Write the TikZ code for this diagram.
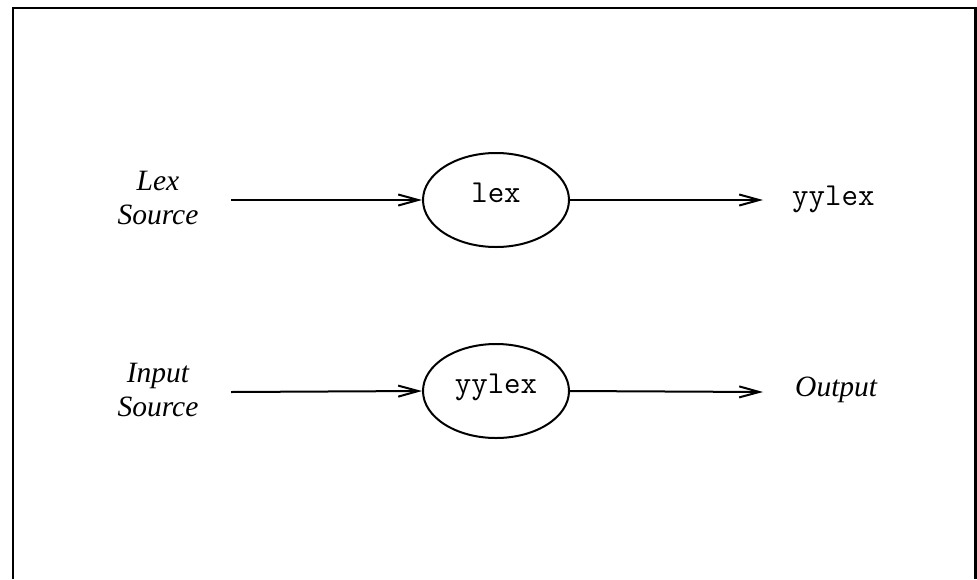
\documentclass[tikz,border=0pt]{standalone}
\usepackage{fontspec}
\setmainfont{Liberation Serif}
\usetikzlibrary{arrows.meta,shapes.geometric}
\tikzset{
  lbl/.style={font=\fontsize{29.5}{34}\selectfont\itshape, align=center, inner sep=0pt},
  code/.style={font=\fontsize{32}{36}\selectfont\ttfamily, inner sep=0pt},
  proc/.style={ellipse, draw, line width=2pt, minimum width=146pt, minimum height=94pt,
    inner sep=0pt, font=\fontsize{32}{36}\selectfont\ttfamily, text height=0.6em, text depth=0.2em},
  flow/.style={line width=2pt, -{Straight Barb[length=20pt,width=11pt,line width=2pt]}},
  frame/.style={line width=2.2pt}
}
\begin{document}
\begin{tikzpicture}[x=1pt,y=1pt]
\useasboundingbox (0,0) rectangle (977,-579);
\draw[frame] (13,-579) -- (13,-8) -- (975.5,-8) -- (975.5,-579);

\node[lbl] (lexsrc) at (158,-198) {Lex\\Source};
\node[proc] (lex) at (496,-200) {lex};
\node[code, anchor=base west] (yy1) at (792,-205) {yylex};
\coordinate (a1s) at (231,-200);
\coordinate (a1e) at (763,-200);

\node[lbl] (insrc) at (158,-390) {Input\\Source};
\node[proc] (yylex) at (496,-391) {yylex};
\node[lbl, anchor=base west] (out) at (795,-396) {Output};
\coordinate (a2s) at (231,-392);
\coordinate (a2e) at (763,-392);

\draw[flow] (a1s) -- (lex.west);
\draw[flow] (lex.east) -- (a1e);
\draw[flow] (a2s) -- (yylex.west);
\draw[flow] (yylex.east) -- (a2e);
\end{tikzpicture}
\end{document}
